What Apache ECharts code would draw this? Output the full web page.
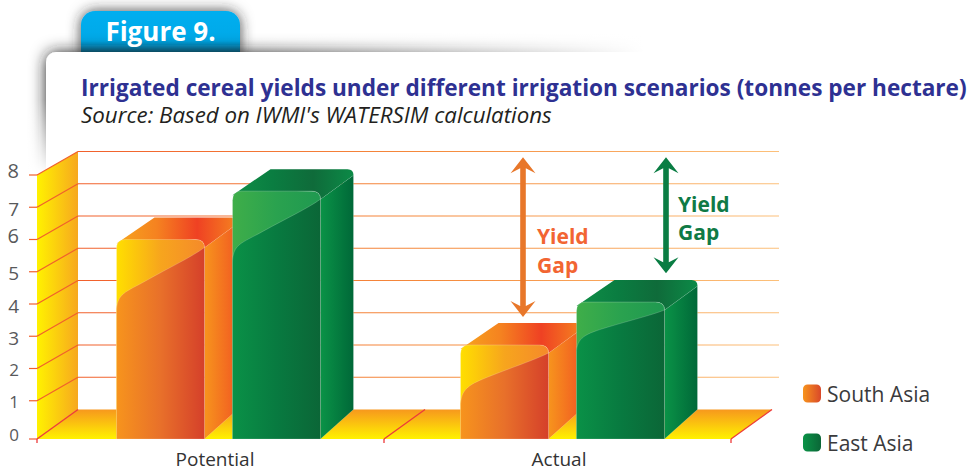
<!DOCTYPE html>
<html>
<head>
<meta charset="utf-8">
<style>
    html, body { margin: 0; padding: 0; background: #fff; }
    #chart { width: 974px; height: 470px; }
</style>
<script src="https://cdn.jsdelivr.net/npm/echarts@6/dist/echarts.min.js"></script>
</head>
<body>
<div id="chart"></div>
<script>
var categories = ['Potential', 'Actual'];
var yTicks = [0, 1, 2, 3, 4, 5, 6, 7, 8];
var southAsia = [6.0, 2.73];
var eastAsia = [7.5, 4.06];
// yield gap arrows, top and bottom of each one on the value axis
var gapSouth = [8.55, 3.6];
var gapEast = [8.55, 4.95];

var fontName = '"Open Sans"';
var LG = echarts.graphic.LinearGradient;

// fake 3d depth of the box, in pixels
var wallDx = 41, wallDy = -23.5, floorDrop = 6;
var barW = 88, sideDx = 33, topDy = -22;

function hGrad(stops) {
    var arr = [];
    for (var i = 0; i < stops.length; i++) {
        arr.push({offset: i / (stops.length - 1), color: stops[i]});
    }
    return new LG(0, 0, 1, 0, arr);
}

function poly(points, fill, extra) {
    var el = {type: 'polygon', shape: {points: points}, style: {fill: fill}};
    if (extra) {
        el.style.stroke = extra.stroke;
        el.style.lineWidth = extra.lineWidth;
    }
    return el;
}

function seg(x1, y1, x2, y2, color, w) {
    return {type: 'line', shape: {x1: x1, y1: y1, x2: x2, y2: y2}, style: {stroke: color, lineWidth: w || 1.2}};
}

// wall, floor and grid lines
function renderFrame(params, api) {
    var cs = params.coordSys;
    var left = cs.x - floorDrop;
    var right = cs.x + cs.width;
    var top = api.coord([0, yTicks[yTicks.length - 1]])[1];
    var y0 = api.coord([0, 0])[1];
    var front = y0 + floorDrop;
    var kids = [];

    kids.push(poly([[left, top], [left + wallDx, top + wallDy], [left + wallDx, y0 + wallDy], [left, front]],
        hGrad(['#fff200', '#f7a81f'])));
    kids.push(poly([[left, front], [right, front], [right + wallDx, y0 + wallDy], [left + wallDx, y0 + wallDy]],
        new LG(0, 0, 0, 1, [{offset: 0, color: '#f7981d'}, {offset: 1, color: '#fff200'}])));

    for (var i = 0; i < yTicks.length; i++) {
        var y = api.coord([0, yTicks[i]])[1];
        if (yTicks[i] === 0) {
            kids.push(seg(left - 8, front, left, front, '#f15a3a'));
            continue;
        }
        // zero height line, so the gradient has to be in global coordinates
        var x1 = left + wallDx, x2 = right + wallDx + 7;
        kids.push({
            type: 'line',
            shape: {x1: x1, y1: y + wallDy, x2: x2, y2: y + wallDy},
            style: {
                stroke: new LG(x1, 0, x2, 0, [
                    {offset: 0, color: '#f1602c'},
                    {offset: 0.5, color: '#f58a3c'},
                    {offset: 1, color: '#fcc07a'}
                ], true),
                lineWidth: 1.2
            }
        });
        kids.push(seg(left, y, left + wallDx, y + wallDy, '#f1602c'));
        kids.push(seg(left - 8, y, left, y, '#f1602c'));
    }

    var marks = [left, left + (right - left) / 2, right];
    for (var j = 0; j < marks.length; j++) {
        kids.push(seg(marks[j], front, marks[j] + wallDx, y0 + wallDy, '#ed3a3a', 1.3));
        kids.push(seg(marks[j], front, marks[j], front + 4, '#ed3a3a', 1.3));
    }
    return {type: 'group', children: kids};
}

// one fake 3d bar, colours come from the palette
function barRenderer(shift, pal, drops, bulge) {
    return function (params, api) {
        var idx = api.value(0);
        var p = api.coord([idx, api.value(1)]);
        var y0 = api.coord([idx, 0])[1];
        var x = p[0] + shift, top = p[1];
        var r = x + barW, bottom = y0 + floorDrop, r2 = 9;

        var yL = top + drops[idx], yR = top + 8, h = yL - yR, m = bulge[idx];
        var s = (1 - m) / 0.65; // slope through the middle of the swoosh
        var edge = 'rgba(255,255,255,0.35)';
        var kids = [];

        // side
        kids.push(poly([[r, yR], [r + sideDx, top + topDy + 6], [r + sideDx, y0 + wallDy], [r, bottom]],
            hGrad(pal.side), {stroke: edge, lineWidth: 0.6}));
        // top
        kids.push({
            type: 'path',
            shape: {
                pathData: 'M' + x + ' ' + (top + 4) +
                    ' L' + (x + sideDx + 5) + ' ' + (top + topDy) +
                    ' L' + (r + sideDx - 6) + ' ' + (top + topDy) +
                    ' Q' + (r + sideDx) + ' ' + (top + topDy) + ' ' + (r + sideDx) + ' ' + (top + topDy + 6) +
                    ' L' + r + ' ' + yR +
                    ' Q' + r + ' ' + top + ' ' + (r - r2) + ' ' + top + ' Z'
            },
            style: {fill: hGrad(pal.top)}
        });
        // front
        kids.push({
            type: 'path',
            shape: {
                pathData: 'M' + x + ' ' + bottom +
                    ' L' + x + ' ' + (top + r2) +
                    ' Q' + x + ' ' + top + ' ' + (x + r2) + ' ' + top +
                    ' L' + (r - r2) + ' ' + top +
                    ' Q' + r + ' ' + top + ' ' + r + ' ' + yR +
                    ' L' + r + ' ' + bottom + ' Z'
            },
            style: {fill: hGrad(pal.front), stroke: edge, lineWidth: 0.6}
        });
        // darker swoosh on the lower part of the front
        kids.push({
            type: 'path',
            shape: {
                pathData: 'M' + x + ' ' + bottom +
                    ' L' + x + ' ' + yL +
                    ' C' + x + ' ' + (yL - 0.6 * m * h) + ' ' + (x + 0.1 * barW) + ' ' + (yL - (m - 0.25 * s) * h) + ' ' + (x + 0.35 * barW) + ' ' + (yL - m * h) +
                    ' C' + (x + 0.6 * barW) + ' ' + (yL - (m + 0.25 * s) * h) + ' ' + (x + 0.85 * barW) + ' ' + (yL - (m + (1 - m) * 0.7) * h) + ' ' + r + ' ' + yR +
                    ' L' + r + ' ' + bottom + ' Z'
            },
            style: {fill: hGrad(pal.lower), stroke: edge, lineWidth: 0.5}
        });
        return {type: 'group', children: kids};
    };
}

function arrowRenderer(color) {
    return function (params, api) {
        var x = api.coord([api.value(0), 0])[0] + api.value(3);
        var a = api.coord([0, api.value(1)])[1];
        var b = api.coord([0, api.value(2)])[1];
        var hw = 12.5, hl = 16, notch = 11, sw = 2.8;
        return poly([
            [x, a], [x + hw, a + hl], [x + sw, a + notch], [x + sw, b - notch], [x + hw, b - hl],
            [x, b], [x - hw, b - hl], [x - sw, b - notch], [x - sw, a + notch], [x - hw, a + hl]
        ], color);
    };
}

// the source used old style figures: 6 and 8 stand tall, 0 1 2 are small, 3 4 5 7 hang down
function digitLabel(v) {
    if (v === 8 || v === 6) return '{tall|' + v + '}';
    if (v <= 2) return '{small|' + v + '}';
    return '{hang|' + v + '}';
}

var chart = echarts.init(document.getElementById('chart'), null, {renderer: 'svg'});

var southPal = {
    side: ['#f7941d', '#f15a22'],
    top: ['#f7a51d', '#f58220', '#ef4123', '#f58220'],
    front: ['#ffdf00', '#f7a51d', '#f58a2a'],
    lower: ['#f7941d', '#e8702a', '#d5402a']
};
var eastPal = {
    side: ['#0a9347', '#006838'],
    top: ['#0f8f46', '#0a7d41', '#0f6b3a', '#0c8a47'],
    front: ['#3fae49', '#2aa24f', '#1f9950'],
    lower: ['#0a9147', '#087a40', '#0b6637']
};

chart.setOption({
    animation: false,
    backgroundColor: '#fff',
    title: [{
        text: 'Irrigated cereal yields under different irrigation scenarios (tonnes per hectare)',
        left: 76, top: 70,
        textStyle: {fontFamily: fontName, fontSize: 22.6, lineHeight: 24, fontWeight: 'bold', color: '#2e3192'}
    }, {
        text: "Source: Based on IWMI's WATERSIM calculations",
        left: 76, top: 97,
        textStyle: {fontFamily: fontName, fontSize: 22.3, lineHeight: 24, fontWeight: 'normal', fontStyle: 'italic', color: '#231f20'}
    }],
    legend: {
        left: 803, top: 383,
        padding: 0,
        orient: 'vertical',
        itemWidth: 18, itemHeight: 18, itemGap: 28,
        icon: 'roundRect',
        selectedMode: false,
        textStyle: {fontFamily: fontName, fontSize: 21, lineHeight: 18, color: '#3a3a3c', padding: [0, 0, 0, 1]},
        data: [
            {name: 'South Asia', itemStyle: {color: hGrad(['#f7941d', '#d9482a'])}},
            {name: 'East Asia', itemStyle: {color: hGrad(['#0a9347', '#0b6637'])}}
        ]
    },
    grid: {left: 43, right: 243, top: 175, bottom: 37},
    xAxis: {
        type: 'category',
        data: categories,
        axisLine: {show: false},
        axisTick: {show: false},
        axisLabel: {margin: 16, fontFamily: fontName, fontSize: 19, lineHeight: 20, color: '#333'}
    },
    yAxis: {
        type: 'value',
        min: 0, max: 8, interval: 1,
        axisLine: {show: false},
        axisTick: {show: false},
        splitLine: {show: false},
        axisLabel: {
            margin: 24,
            formatter: digitLabel,
            rich: {
                tall: {fontFamily: fontName, fontSize: 20, color: '#58595b', padding: [0, 0, 9, 0]},
                hang: {fontFamily: fontName, fontSize: 19, color: '#58595b', padding: [3, 0, 0, 0]},
                small: {fontFamily: fontName, fontSize: 17, color: '#58595b', padding: [2, 0, 0, 0]}
            }
        }
    },
    graphic: [
        // tab
        {type: 'rect', z: 0, shape: {x: 81, y: 11, width: 159, height: 50, r: [14, 14, 0, 0]},
            style: {fill: new LG(0, 0, 0, 1, [{offset: 0, color: '#00aeef'}, {offset: 0.6, color: '#00a9e8'}, {offset: 0.82, color: '#0079a8'}, {offset: 1, color: '#0079a8'}]),
                shadowBlur: 14, shadowColor: 'rgba(40,40,40,0.85)'}},
        {type: 'text', z: 1, style: {x: 160.5, y: 31, text: 'Figure 9.', align: 'center', verticalAlign: 'middle',
            font: 'bold 26px ' + fontName, fill: '#fff'}},
        // panel
        {type: 'rect', z: 0, shape: {x: 46, y: 52, width: 960, height: 440, r: [10, 0, 0, 0]},
            style: {fill: '#fff', shadowBlur: 16, shadowColor: 'rgba(30,30,30,0.95)'}},
        // fade the panel shadow out
        {type: 'rect', z: 0, shape: {x: 240, y: 30, width: 734, height: 22},
            style: {fill: new LG(0, 0, 1, 0, [{offset: 0, color: 'rgba(255,255,255,0)'}, {offset: 0.55, color: '#fff'}, {offset: 1, color: '#fff'}])}},
        {type: 'rect', z: 0, shape: {x: 20, y: 100, width: 26, height: 370},
            style: {fill: new LG(0, 0, 0, 1, [{offset: 0, color: 'rgba(255,255,255,0)'}, {offset: 0.2, color: '#fff'}, {offset: 1, color: '#fff'}])}},
        // yield gap labels
        {type: 'text', z: 20, style: {x: 537, y: 236, text: 'Yield', verticalAlign: 'middle', font: 'bold 21px ' + fontName, fill: '#f26532'}},
        {type: 'text', z: 20, style: {x: 537, y: 265, text: 'Gap', verticalAlign: 'middle', font: 'bold 21px ' + fontName, fill: '#f26532'}},
        {type: 'text', z: 20, style: {x: 678, y: 204, text: 'Yield', verticalAlign: 'middle', font: 'bold 21px ' + fontName, fill: '#0f7a45'}},
        {type: 'text', z: 20, style: {x: 678, y: 232, text: 'Gap', verticalAlign: 'middle', font: 'bold 21px ' + fontName, fill: '#0f7a45'}}
    ],
    series: [{
        name: 'frame',
        type: 'custom',
        z: 2,
        silent: true,
        data: [[0, 0]],
        renderItem: renderFrame
    }, {
        name: 'South Asia',
        type: 'custom',
        z: 3,
        encode: {x: 0, y: 1},
        itemStyle: {color: '#f7941d'},
        data: southAsia.map(function (v, i) { return [i, v]; }),
        renderItem: barRenderer(-98.5, southPal, [73, 62], [0.5, 0.58])
    }, {
        name: 'East Asia',
        type: 'custom',
        z: 4,
        encode: {x: 0, y: 1},
        itemStyle: {color: '#0a8f47'},
        data: eastAsia.map(function (v, i) { return [i, v]; }),
        renderItem: barRenderer(17.5, eastPal, [72, 51], [0.5, 0.6])
    }, {
        name: 'gap south',
        type: 'custom',
        z: 5,
        silent: true,
        data: [[1, gapSouth[0], gapSouth[1], -36]],
        renderItem: arrowRenderer('#e8772a')
    }, {
        name: 'gap east',
        type: 'custom',
        z: 5,
        silent: true,
        data: [[1, gapEast[0], gapEast[1], 107]],
        renderItem: arrowRenderer('#0a7d43')
    }]
});
</script>
</body>
</html>
